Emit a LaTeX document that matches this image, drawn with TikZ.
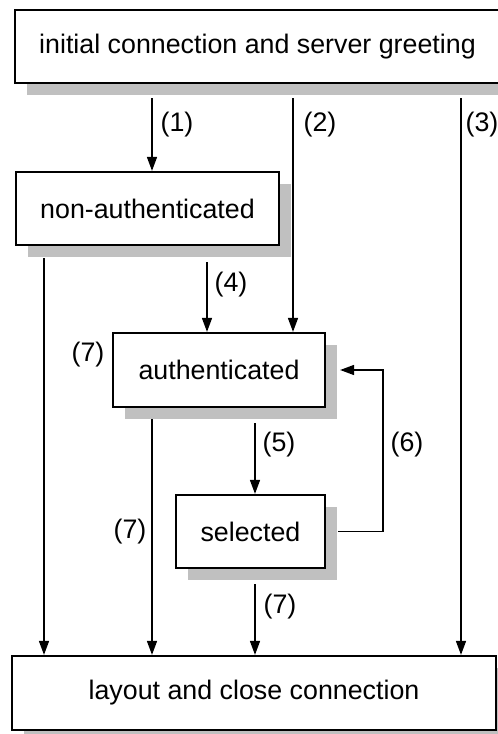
\documentclass[tikz,border=0pt]{standalone}
\usepackage{fontspec}
\setmainfont{Liberation Sans}
\usetikzlibrary{arrows.meta,shadows}
\definecolor{shadowgray}{HTML}{C0C0C0}
\tikzset{
  state/.style={draw=black, line width=2.2pt, fill=white, inner sep=0pt,
    font=\fontsize{26.8}{30}\selectfont,
    drop shadow={shadow xshift=11.5pt, shadow yshift=-11.5pt, fill=shadowgray, opacity=1}},
  lbl/.style={font=\fontsize{26.8}{30}\selectfont, inner sep=0pt},
  arr/.style={line width=1.5pt, -{Triangle[length=14pt,width=10pt]}},
}
\begin{document}
\begin{tikzpicture}[x=1pt,y=-1pt]
\useasboundingbox (0,0) rectangle (498,734);
\clip (0,0) rectangle (498,734);
\node[state, minimum width=485pt, minimum height=73pt] (init) at (257.5,46.5) {initial connection and server greeting};
\node[state, minimum width=263pt, minimum height=73pt] (nonauth) at (147.5,208.5) {non-authenticated};
\node[state, minimum width=212pt, minimum height=74pt] (auth) at (219,370) {authenticated};
\node[state, minimum width=149pt, minimum height=73pt] (sel) at (250.5,531.5) {selected};
\node[state, minimum width=484pt, minimum height=74pt] (close) at (254,693) {layout and close connection};

\coordinate (xa) at (44,0);
\coordinate (xb) at (152,0);
\coordinate (xc) at (207,0);
\coordinate (xd) at (255,0);
\coordinate (xe) at (293,0);
\coordinate (xf) at (461,0);
\coordinate (xg) at (383,0);

\draw[arr] ([yshift=-14pt]init.south -| xb) -- (nonauth.north -| xb);
\draw[arr] ([yshift=-14pt]init.south -| xe) -- (auth.north -| xe);
\draw[arr] ([yshift=-14pt]init.south -| xf) -- (close.north -| xf);
\draw[arr] ([yshift=-12pt]nonauth.south -| xa) -- (close.north -| xa);
\draw[arr] ([yshift=-16pt]nonauth.south -| xc) -- (auth.north -| xc);
\draw[arr] ([yshift=-11pt]auth.south -| xb) -- (close.north -| xb);
\draw[arr] ([yshift=-15pt]auth.south -| xd) -- (sel.north -| xd);
\draw[arr] ([yshift=-15pt]sel.south -| xd) -- (close.north -| xd);
\draw[arr] ([xshift=12pt]sel.east) -- (sel.east -| xg) -- (auth.east -| xg) -- ([xshift=14pt]auth.east);

\node[lbl] (l1) at (177,125) {(1)};
\node[lbl] (l2) at (320,125) {(2)};
\node[lbl] (l3) at (482,125) {(3)};
\node[lbl] (l4) at (231,285) {(4)};
\node[lbl] (l7a) at (88,355) {(7)};
\node[lbl] (l5) at (279,445) {(5)};
\node[lbl] (l6) at (407,445) {(6)};
\node[lbl] (l7b) at (130,532) {(7)};
\node[lbl] (l7c) at (280,607) {(7)};
\end{tikzpicture}
\end{document}
